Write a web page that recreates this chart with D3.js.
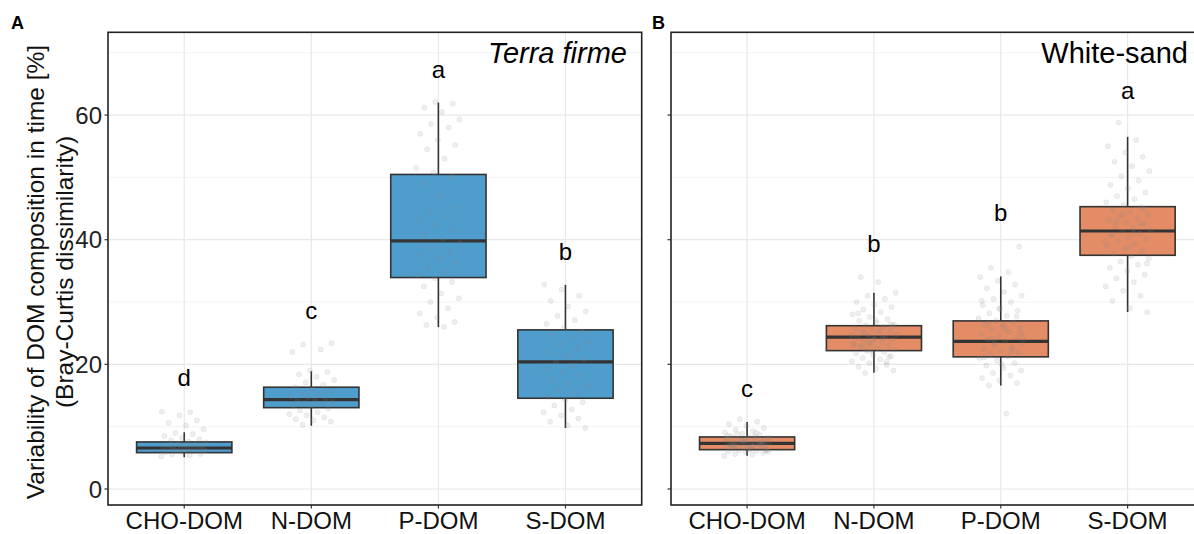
<!DOCTYPE html>
<html>
<head>
<meta charset="utf-8">
<script src="https://cdn.jsdelivr.net/npm/d3@7"></script>
<style>
body { margin: 0; background: #fff; }
text { font-family: "Liberation Sans", Arial, sans-serif; }
</style>
</head>
<body>
<svg id="chart" width="1194" height="534"></svg>
<script>
// categories and panels
var groups = ["CHO-DOM", "N-DOM", "P-DOM", "S-DOM"];
var yTicks = [0, 20, 40, 60];
var yMinor = [10, 30, 50, 70];

// box stats: [whiskerLow, q1, median, q3, whiskerHigh]
var statsTerra = [
  [5.1, 5.83, 6.58, 7.55, 9.1],
  [10.16, 13.05, 14.34, 16.33, 18.9],
  [25.96, 33.93, 39.82, 50.47, 62.0],
  [9.79, 14.56, 20.39, 25.53, 32.75]
];
var statsWhite = [
  [5.35, 6.31, 7.33, 8.35, 10.76],
  [18.67, 22.2, 24.36, 26.2, 31.5],
  [16.6, 21.2, 23.7, 26.97, 34.1],
  [28.4, 37.5, 41.4, 45.3, 56.5]
];

// significance letters and their heights
var lettersTerra = ["d", "c", "a", "b"];
var letterYTerra = [17.8, 28.7, 67.3, 38.1];
var lettersWhite = ["c", "b", "b", "a"];
var letterYWhite = [16.06, 39.3, 44.3, 63.95];

// jittered raw points (estimated)
var choTerra = [5.2,5.4,5.5,5.6,5.8,5.9,6.0,6.1,6.2,6.3,6.4,6.5,6.5,6.6,6.7,6.8,6.9,7.0,7.1,7.2,7.3,7.5,7.6,7.8,8.0,8.2,8.5,8.8,9.0,9.6,10.2,10.6,11.0,11.8,12.4,12.3];
var nTerra = [10.3,10.8,11.0,11.2,11.5,11.8,12.0,12.3,12.6,12.9,13.2,13.4,13.6,13.8,14.0,14.2,14.3,14.5,14.7,14.9,15.1,15.4,15.7,16.0,16.3,16.7,17.1,17.5,18.0,18.4,18.8,19.0,22.0,22.4,23.2,23.4];
var pTerra = [26.0,26.3,26.8,27.5,28.2,29.0,30.0,30.6,31.4,32.5,33.2,33.8,34.3,34.8,35.5,36.4,37.0,37.6,38.2,38.8,39.5,40.1,40.8,41.5,42.3,43.0,43.8,44.5,45.2,47.0,49.0,50.2,50.8,51.5,53.0,54.5,55.2,56.0,57.0,58.0,58.6,59.3,60.5,61.2,61.8,62.1];
var sTerra = [9.8,10.2,10.8,11.3,11.8,12.3,12.8,13.4,13.9,14.3,14.8,15.3,15.9,16.5,17.0,17.6,18.2,18.7,19.2,19.8,20.3,20.8,21.3,21.9,22.5,23.1,23.6,24.2,24.7,25.3,25.9,26.5,27.1,27.8,28.5,29.3,30.2,31.0,32.0,32.8];
var choWhite = [5.3,5.5,5.6,5.8,5.9,6.0,6.1,6.2,6.3,6.4,6.5,6.6,6.7,6.8,6.9,7.0,7.0,7.1,7.2,7.3,7.3,7.4,7.5,7.6,7.7,7.8,7.9,8.0,8.1,8.2,8.3,8.5,8.7,8.9,9.1,9.3,9.5,9.8,10.1,10.4,10.8,11.2,6.0,6.4,6.8,7.2,7.6,8.0,8.4,8.8,6.2,6.6,7.0,7.4,7.8,8.2,6.9,7.1,7.5,7.9,8.6,9.0];
var nWhite = [18.6,19.0,19.3,19.6,19.9,20.2,20.5,20.8,21.0,21.3,21.5,21.8,22.0,22.2,22.4,22.6,22.8,23.0,23.2,23.4,23.6,23.8,24.0,24.1,24.3,24.4,24.6,24.8,25.0,25.2,25.4,25.6,25.8,26.0,26.2,26.4,26.7,27.0,27.3,27.6,28.0,28.4,28.8,29.2,29.6,30.0,30.5,31.0,31.5,33.2,34.0,21.2,22.1,23.1,24.2,25.1,26.1,27.1,28.2,20.4,23.5,24.7,25.5,22.9,26.5,24.0];
var pWhite = [12.1,16.6,17.0,17.4,17.8,18.2,18.6,19.0,19.4,19.8,20.2,20.6,21.0,21.3,21.6,21.9,22.2,22.5,22.8,23.1,23.4,23.7,24.0,24.3,24.6,24.9,25.2,25.5,25.8,26.1,26.4,26.7,27.0,27.4,27.8,28.2,28.6,29.0,29.5,30.0,30.5,31.0,31.6,32.2,32.8,33.4,34.0,34.8,35.5,38.9,20.0,21.1,22.4,23.5,24.5,25.6,26.6,27.7,28.9,30.2,22.0,24.1,25.0,26.3];
var sWhite = [28.4,29.0,30.2,31.0,31.8,32.5,33.2,33.8,34.4,35.0,35.5,36.0,36.5,37.0,37.4,37.8,38.2,38.6,39.0,39.4,39.8,40.1,40.4,40.7,41.0,41.3,41.6,41.9,42.2,42.5,42.8,43.1,43.4,43.7,44.0,44.4,44.8,45.2,45.6,46.0,46.5,47.0,47.6,48.2,48.8,49.5,50.2,51.0,51.8,52.5,53.3,54.0,55.0,56.0,58.8,36.2,38.8,40.9,42.6,44.1,39.6,41.1,43.0,45.0];

var svg = d3.select("#chart");
var plotTop = 32.3, plotBottom = 505;
var y = d3.scaleLinear().domain([-2.57, 73.28]).range([plotBottom, plotTop]);

function panel(left, right, stats, pts, letters, letterY, fill, title, italic, titleX, tag, tagX, showLabels) {
  // ggplot-like discrete expansion of 0.6 on each side
  var x = d3.scalePoint().domain(groups).range([left, right]).padding(0.6);
  var step = x.step();
  var g = svg.append("g");

  g.selectAll(".minor").data(yMinor).enter().append("line")
    .attr("x1", left).attr("x2", right).attr("y1", function(d){return y(d);}).attr("y2", function(d){return y(d);})
    .attr("stroke", "#eeeeee").attr("stroke-width", 0.7);
  g.selectAll(".major").data(yTicks).enter().append("line")
    .attr("x1", left).attr("x2", right).attr("y1", function(d){return y(d);}).attr("y2", function(d){return y(d);})
    .attr("stroke", "#e8e8e8").attr("stroke-width", 1.2);
  g.selectAll(".vgrid").data(groups).enter().append("line")
    .attr("x1", function(d){return x(d);}).attr("x2", function(d){return x(d);}).attr("y1", plotTop).attr("y2", plotBottom)
    .attr("stroke", "#e8e8e8").attr("stroke-width", 1.2);

  var bw = step * 0.75;
  groups.forEach(function(grp, i) {
    var s = stats[i], cx = x(grp);
    g.append("line").attr("x1", cx).attr("x2", cx).attr("y1", y(s[0])).attr("y2", y(s[4]))
      .attr("stroke", "#333").attr("stroke-width", 1.6);
    g.append("rect").attr("x", cx - bw / 2).attr("width", bw).attr("y", y(s[3])).attr("height", y(s[1]) - y(s[3]))
      .attr("fill", fill).attr("stroke", "#333").attr("stroke-width", 1.6);
    g.append("line").attr("x1", cx - bw / 2).attr("x2", cx + bw / 2).attr("y1", y(s[2])).attr("y2", y(s[2]))
      .attr("stroke", "#333").attr("stroke-width", 3.2);
    // jitter points
    g.selectAll(".pt" + i).data(pts[i]).enter().append("circle")
      .attr("cx", function(d, j){ return cx + (((j * 0.618034 + i * 0.31) % 1) - 0.5) * 0.36 * step; })
      .attr("cy", function(d){ return y(d); })
      .attr("r", 2.6)
      .attr("fill", "#8a8a8a").attr("fill-opacity", 0.14)
      .attr("stroke", "#8a8a8a").attr("stroke-opacity", 0.12).attr("stroke-width", 0.8);
    g.append("text").attr("x", cx).attr("y", y(letterY[i])).attr("dy", "0.35em")
      .attr("text-anchor", "middle").style("font-size", "24px").text(letters[i]);
  });

  // frame
  g.append("rect").attr("x", left).attr("y", plotTop).attr("width", right - left).attr("height", plotBottom - plotTop)
    .attr("fill", "none").attr("stroke", "#222").attr("stroke-width", 1.6);

  // axes ticks
  g.selectAll(".yt").data(yTicks).enter().append("line")
    .attr("x1", left - 3.5).attr("x2", left).attr("y1", function(d){return y(d);}).attr("y2", function(d){return y(d);})
    .attr("stroke", "#333").attr("stroke-width", 1.2);
  if (showLabels) {
    g.selectAll(".yl").data(yTicks).enter().append("text")
      .attr("x", left - 6).attr("y", function(d){return y(d);}).attr("dy", "0.36em")
      .attr("text-anchor", "end").style("font-size", "24px").attr("fill", "#222").text(function(d){return d;});
  }
  g.selectAll(".xt").data(groups).enter().append("line")
    .attr("x1", function(d){return x(d);}).attr("x2", function(d){return x(d);}).attr("y1", plotBottom).attr("y2", plotBottom + 3.5)
    .attr("stroke", "#333").attr("stroke-width", 1.2);
  g.selectAll(".xl").data(groups).enter().append("text")
    .attr("x", function(d){return x(d);}).attr("y", 529)
    .attr("text-anchor", "middle").style("font-size", "24px").attr("fill", "#111").text(function(d){return d;});

  g.append("text").attr("x", titleX).attr("y", 63).attr("text-anchor", "end")
    .style("font-size", "29px").style("font-style", italic ? "italic" : "normal").text(title);
  g.append("text").attr("x", tagX).attr("y", 29).style("font-size", "18px").style("font-weight", "bold").text(tag);
}

panel(108, 641.7, statsTerra, [choTerra, nTerra, pTerra, sTerra], lettersTerra, letterYTerra,
  "#4f9dcd", "Terra firme", true, 627, "A", 11, true);
panel(671, 1203.7, statsWhite, [choWhite, nWhite, pWhite, sWhite], lettersWhite, letterYWhite,
  "#e38c66", "White-sand", false, 1188, "B", 652, false);

// y axis title
var yt = svg.append("text").attr("transform", "translate(0,272) rotate(-90)")
  .attr("text-anchor", "middle").style("font-size", "24.5px").attr("fill", "#111");
yt.append("tspan").attr("x", 0).attr("y", 44).text("Variability of DOM composition in time [%]");
yt.append("tspan").attr("x", 0).attr("y", 73).text("(Bray-Curtis dissimilarity)");
</script>
</body>
</html>
